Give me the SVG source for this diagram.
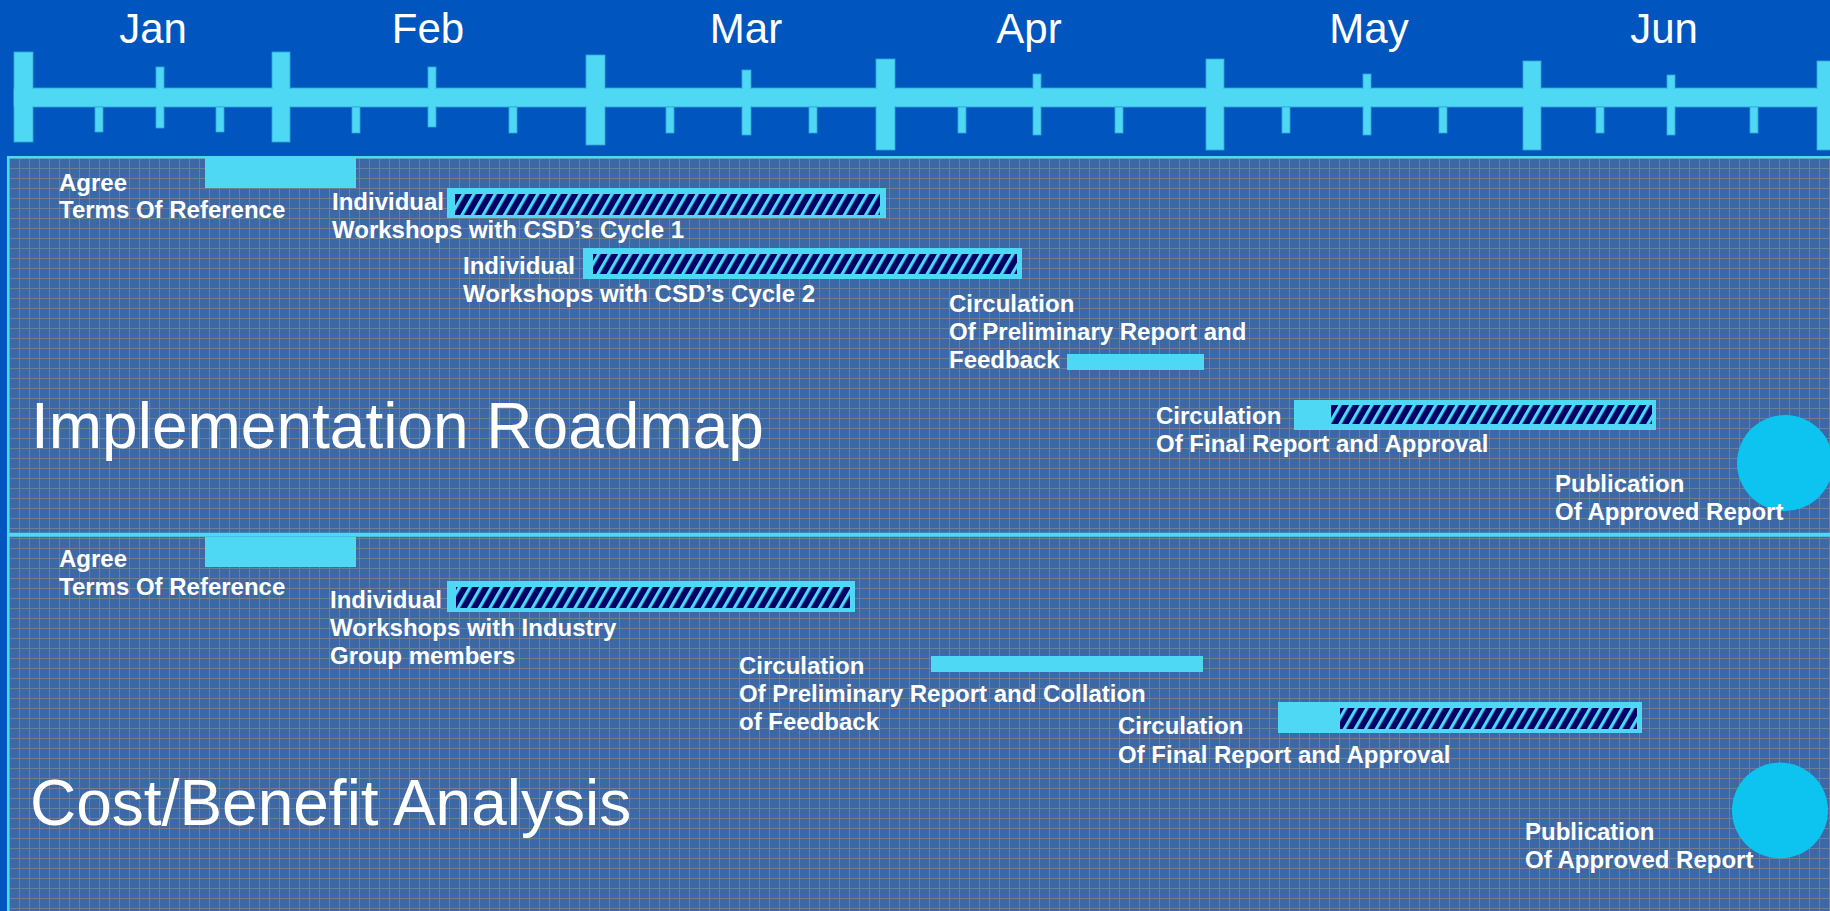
<svg xmlns="http://www.w3.org/2000/svg" width="1830" height="911" viewBox="0 0 1830 911">
<style>
.tk{fill:#4ED8F3;stroke:#2FA9DD;stroke-width:0.8}
.mo{font-family:"Liberation Sans",Arial,sans-serif;font-size:42px;fill:#ffffff;text-anchor:middle}
.lb{font-family:"Liberation Sans",Arial,sans-serif;font-size:24px;font-weight:bold;fill:#ffffff}
.ti{font-family:"Liberation Sans",Arial,sans-serif;font-size:64px;fill:#ffffff}
.bar{fill:#4ED8F3}
.hat{fill:url(#hatch)}
.pub{fill:#0CC4EF}
.edge{stroke:#4ED8F3;fill:none}
</style>
<defs>
<pattern id="grid" patternUnits="userSpaceOnUse" x="9" y="8" width="10" height="10">
<rect width="10" height="10" fill="#3D68A6"/>
<path d="M0.5 0V10M0 0.5H10" stroke="#717D93" stroke-width="1"/>
</pattern>
<pattern id="hatch" patternUnits="userSpaceOnUse" width="9.2" height="20" patternTransform="rotate(30)">
<rect width="9.2" height="20" fill="#000066"/>
<rect width="3.2" height="20" fill="#4ED8F3"/>
</pattern>
</defs>
<g id="header">
<rect x="0" y="0" width="1830" height="911" fill="#0056BE"/>
<rect class="tk" x="14" y="88" width="1830" height="19"/>
<rect class="tk" x="14" y="52" width="19" height="90"/>
<rect class="tk" x="272" y="52" width="18" height="90"/>
<rect class="tk" x="586" y="55" width="19" height="90"/>
<rect class="tk" x="876" y="59" width="19" height="91"/>
<rect class="tk" x="1206" y="59" width="18" height="91"/>
<rect class="tk" x="1523" y="61" width="18" height="89"/>
<rect class="tk" x="1817" y="61" width="19" height="89"/>
<rect class="tk" x="156" y="67" width="8" height="61"/>
<rect class="tk" x="428" y="67" width="8" height="60"/>
<rect class="tk" x="742" y="70" width="9" height="65"/>
<rect class="tk" x="1033" y="74" width="8" height="61"/>
<rect class="tk" x="1363" y="74" width="8" height="61"/>
<rect class="tk" x="1667" y="75" width="8" height="60"/>
<rect class="tk" x="95" y="107" width="8" height="25"/>
<rect class="tk" x="216" y="107" width="8" height="25"/>
<rect class="tk" x="352" y="107" width="8" height="26"/>
<rect class="tk" x="509" y="107" width="8" height="26"/>
<rect class="tk" x="666" y="107" width="8" height="26"/>
<rect class="tk" x="809" y="107" width="8" height="26"/>
<rect class="tk" x="958" y="107" width="8" height="26"/>
<rect class="tk" x="1115" y="107" width="8" height="26"/>
<rect class="tk" x="1282" y="107" width="8" height="26"/>
<rect class="tk" x="1439" y="107" width="8" height="26"/>
<rect class="tk" x="1596" y="107" width="8" height="26"/>
<rect class="tk" x="1750" y="107" width="8" height="26"/>
<rect x="14" y="89" width="1830" height="17" fill="#4ED8F3"/>
<text class="mo" x="153" y="43">Jan</text>
<text class="mo" x="428" y="43">Feb</text>
<text class="mo" x="746" y="43">Mar</text>
<text class="mo" x="1029" y="43">Apr</text>
<text class="mo" x="1369" y="43">May</text>
<text class="mo" x="1664" y="43">Jun</text>
</g>
<g id="panels">
<rect x="7" y="156" width="1830" height="760" fill="url(#grid)"/>
<line class="edge" x1="7" y1="157.2" x2="1830" y2="157.2" stroke-width="2.5"/>
<line class="edge" x1="8.2" y1="156" x2="8.2" y2="911" stroke-width="2.5"/>
<line class="edge" x1="7" y1="534.8" x2="1830" y2="534.8" stroke-width="4"/>
</g>
<g id="ir-title"><text class="ti" x="31" y="448">Implementation Roadmap</text></g>
<g id="ir-tor">
<rect class="bar" x="205" y="158" width="151" height="30"/>
<text class="lb" x="59" y="191">Agree</text>
<text class="lb" x="59" y="218">Terms Of Reference</text>
</g>
<g id="ir-ws1">
<rect class="bar" x="447" y="188" width="439" height="30"/>
<rect class="hat" x="455" y="194" width="425" height="21"/>
<text class="lb" x="332" y="210">Individual</text>
<text class="lb" x="332" y="238">Workshops with CSD’s Cycle 1</text>
</g>
<g id="ir-ws2">
<rect class="bar" x="583" y="248" width="439" height="31"/>
<rect class="hat" x="593" y="254" width="424" height="20"/>
<text class="lb" x="463" y="274">Individual</text>
<text class="lb" x="463" y="302">Workshops with CSD’s Cycle 2</text>
</g>
<g id="ir-prelim">
<rect class="bar" x="1067" y="354" width="137" height="16"/>
<text class="lb" x="949" y="312">Circulation</text>
<text class="lb" x="949" y="340">Of Preliminary Report and</text>
<text class="lb" x="949" y="368">Feedback</text>
</g>
<g id="ir-final">
<rect class="bar" x="1294" y="400" width="362" height="30"/>
<rect class="hat" x="1331" y="405" width="321" height="19"/>
<text class="lb" x="1156" y="424">Circulation</text>
<text class="lb" x="1156" y="452">Of Final Report and Approval</text>
</g>
<g id="ir-pub">
<circle class="pub" cx="1785" cy="463" r="48"/>
<text class="lb" x="1555" y="492">Publication</text>
<text class="lb" x="1555" y="520">Of Approved Report</text>
</g>
<g id="cba-title"><text class="ti" x="30" y="825">Cost/Benefit Analysis</text></g>
<g id="cba-tor">
<rect class="bar" x="205" y="537" width="151" height="30"/>
<text class="lb" x="59" y="567">Agree</text>
<text class="lb" x="59" y="595">Terms Of Reference</text>
</g>
<g id="cba-ws">
<rect class="bar" x="447" y="581" width="408" height="31"/>
<rect class="hat" x="456" y="587" width="394" height="21"/>
<text class="lb" x="330" y="608">Individual</text>
<text class="lb" x="330" y="636">Workshops with Industry</text>
<text class="lb" x="330" y="664">Group members</text>
</g>
<g id="cba-prelim">
<rect class="bar" x="931" y="656" width="272" height="16"/>
<text class="lb" x="739" y="674">Circulation</text>
<text class="lb" x="739" y="702">Of Preliminary Report and Collation</text>
<text class="lb" x="739" y="730">of Feedback</text>
</g>
<g id="cba-final">
<rect class="bar" x="1278" y="702" width="364" height="31"/>
<rect class="hat" x="1340" y="708" width="297" height="21"/>
<text class="lb" x="1118" y="734">Circulation</text>
<text class="lb" x="1118" y="763">Of Final Report and Approval</text>
</g>
<g id="cba-pub">
<circle class="pub" cx="1780" cy="810.5" r="48"/>
<text class="lb" x="1525" y="840">Publication</text>
<text class="lb" x="1525" y="868">Of Approved Report</text>
</g>
</svg>
